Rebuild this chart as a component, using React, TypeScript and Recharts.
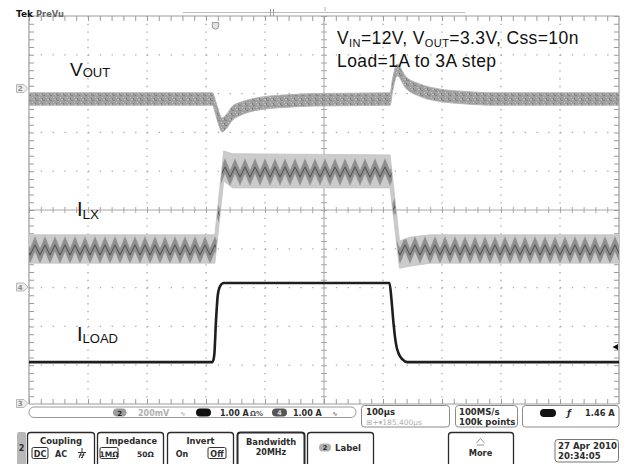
import React from 'react';
import { ComposedChart, Area, Line, XAxis, YAxis, CartesianGrid } from 'recharts';

// Time axis: µs (100 µs/div, 10 divisions). Level axis: screen divisions from bottom (0..10).

// V_OUT trace envelope (CH2, 200 mV/div)
const voutTime = [0, 311, 316, 321, 327, 335, 345, 357, 372, 390, 410, 440, 480, 612, 616, 624, 638, 662, 695, 734, 790, 1000];
const voutLow = [7.7, 7.7, 7.48, 7.22, 7.01, 7.11, 7.32, 7.43, 7.52, 7.58, 7.62, 7.65, 7.68, 7.7, 8.04, 8.46, 8.15, 7.93, 7.8, 7.74, 7.7, 7.7];
const voutHigh = [8.02, 8.02, 7.82, 7.58, 7.37, 7.47, 7.68, 7.77, 7.84, 7.9, 7.94, 7.97, 8.0, 8.02, 8.36, 8.76, 8.45, 8.25, 8.12, 8.06, 8.02, 8.02];

// I_LX ripple envelope (CH1, 1.00 A/div)
const ilxTime = [0, 315, 330, 345, 612, 628, 645, 680, 1000];
const ilxLow = [3.63, 3.63, 5.75, 5.57, 5.57, 3.5, 3.55, 3.63, 3.63];
const ilxHigh = [4.36, 4.36, 6.52, 6.45, 6.42, 4.2, 4.3, 4.36, 4.36];

// I_LOAD step (CH4, 1.00 A/div)
const iloadTime = [0, 311, 314, 317, 320, 324, 330, 611, 614, 618, 622, 627, 633, 641, 1000];
const iloadLevel = [1.08, 1.08, 1.26, 2.16, 2.81, 3.04, 3.12, 3.12, 2.75, 2.05, 1.55, 1.28, 1.15, 1.08, 1.08];

// Graticule
const majorTimes = [0, 100, 200, 300, 400, 500, 600, 700, 800, 900, 1000];
const majorLevels = [0, 1, 2, 3, 4, 5, 6, 7, 8, 9, 10];
const dottedTimes = [100, 200, 300, 400, 600, 700, 800, 900];
const dottedLevels = [1, 2, 3, 4, 6, 7, 8, 9];
const centerTime = [500];
const centerLevel = [5];
const edgeTimes = [0, 1000];
const edgeLevels = [0, 10];
const edgeTickTimes = [4.2, 995.8];
const edgeTickLevels = [0.064, 9.936];

// Text
const traceLabels = { vout: ['V', 'OUT'], ilx: ['I', 'LX'], iload: ['I', 'LOAD'] };
const noteLine2 = 'Load=1A to 3A step';
const statusCh2 = ['2', '200mV'];
const statusCh1 = ['1', '1.00 A'];
const statusCh4 = ['4', '1.00 A'];
const timebase = ['100µs', '⊞+▾185.400µs'];
const sampling = ['100MS/s', '100k points'];
const triggerInfo = ['1', 'ƒ', '1.46 A'];
const dateInfo = ['27 Apr 2010', '20:34:05'];

const voutData = voutTime.map((t, i) => ({ t, range: [voutLow[i], voutHigh[i]] }));
const ilxData = ilxTime.map((t, i) => ({ t, range: [ilxLow[i], ilxHigh[i]] }));
const iloadData = iloadTime.map((t, i) => ({ t, v: iloadLevel[i] }));

const UI = 'DejaVu Sans, Verdana, sans-serif';
const LBL = 'Liberation Sans, Arial, sans-serif';

function ChMarker({ y, label }: { y: number; label: string }) {
  return (
    <g>
      <path d={`M16.5,${y - 4} H24 L28,${y} L24,${y + 4} H16.5 Z`} fill="#ececec" stroke="#a8a8a8" strokeWidth={0.8} />
      <text x={20.3} y={y + 2.6} fontSize={7} fontFamily={UI} fontWeight="bold" textAnchor="middle" fill="#8a8a8a">{label}</text>
    </g>
  );
}

function MenuBox({ x, w, thick, children }: { x: number; w: number; thick?: boolean; children?: React.ReactNode }) {
  return (
    <g>
      <rect x={x} y={432.5} width={w} height={36} rx={3} fill="#fff" stroke="#2a2a2a" strokeWidth={thick ? 2 : 1.3} />
      {children}
    </g>
  );
}

function Overlay() {
  const t = (x: number, y: number, s: string, o: any = {}) => (
    <text x={x} y={y} fontFamily={UI} fontWeight="bold" fontSize={8.3} fill="#2c2c2c" {...o}>{s}</text>
  );
  return (
    <svg width={626} height={464} style={{ position: 'absolute', left: 0, top: 0, pointerEvents: 'none' }}>
      {/* header */}
      <text x={16} y={17} fontFamily={UI} fontWeight="bold" fontSize={9} fill="#111">Tek</text>
      <text x={36} y={17} fontFamily={UI} fontWeight="bold" fontSize={8.3} fill="#666">PreVu</text>
      <line x1={183} y1={12.5} x2={465} y2={12.5} stroke="#bdbdbd" strokeWidth={1} />
      <line x1={270.5} y1={9} x2={270.5} y2={16} stroke="#a0a0a0" strokeWidth={1} />
      <line x1={273.5} y1={9} x2={273.5} y2={16} stroke="#a0a0a0" strokeWidth={1} />
      <line x1={325} y1={7} x2={325} y2={11} stroke="#b0b0b0" strokeWidth={1} />
      <path d="M212.3,22.5 H218.7 V26 A3.2,3.2 0 0 1 212.3,26 Z" fill="#e2e2e2" stroke="#999" strokeWidth={1} />

      {/* channel ground markers */}
      <ChMarker y={88.5} label="2" />
      <ChMarker y={287} label="4" />
      <ChMarker y={403.5} label="3" />
      {/* trigger level marker */}
      <path d="M618,344 L612.5,347 L618,350 Z" fill="#111" />

      {/* trace labels */}
      <text x={70} y={76} fontFamily={LBL} fontSize={19} fill="#111">
        {traceLabels.vout[0]}
        <tspan fontSize={13} dy={1}>{traceLabels.vout[1]}</tspan>
      </text>
      <text x={77} y={216} fontFamily={LBL} fontSize={20} fill="#111">
        {traceLabels.ilx[0]}
        <tspan fontSize={13.5} dy={3}>{traceLabels.ilx[1]}</tspan>
      </text>
      <text x={77} y={341} fontFamily={LBL} fontSize={20} fill="#111">
        {traceLabels.iload[0]}
        <tspan fontSize={13} dy={2}>{traceLabels.iload[1]}</tspan>
      </text>
      <text x={337} y={44} fontFamily={LBL} fontSize={17.5} letterSpacing={0.4} fill="#111">
        V<tspan fontSize={11} dy={3}>IN</tspan>
        <tspan dy={-3}>=12V, V</tspan>
        <tspan fontSize={11} dy={3}>OUT</tspan>
        <tspan dy={-3}>=3.3V, Css=10n</tspan>
      </text>
      <text x={337} y={67} fontFamily={LBL} fontSize={17.5} letterSpacing={0.4} fill="#111">{noteLine2}</text>

      {/* status bar */}
      <rect x={29} y={407} width={327} height={10.5} rx={5} fill="#fff" stroke="#9a9a9a" strokeWidth={1} />
      <rect x={113} y={408.5} width={13.5} height={8} rx={4} fill="#9c9c9c" />
      {t(119.7, 415.5, statusCh2[0], { textAnchor: 'middle', fontSize: 7, fill: '#222' })}
      {t(138, 415.8, statusCh2[1], { fill: '#b0b0b0', fontSize: 8 })}
      {t(180, 415.5, '∿', { fill: '#b0b0b0', fontSize: 7 })}
      <rect x={196} y={408.5} width={15} height={8} rx={4} fill="#111" />
      {t(220, 415.8, statusCh1[1], { fontSize: 8 })}
      {t(250, 415.8, 'Ω%', { fontSize: 7, fill: '#555' })}
      <rect x={272} y={408.5} width={15} height={8} rx={4} fill="#555" />
      {t(279.5, 415.3, statusCh4[0], { textAnchor: 'middle', fontSize: 6.5, fill: '#ddd' })}
      {t(293, 415.8, statusCh4[1], { fontSize: 8 })}
      {t(332, 415.5, '∿', { fill: '#777', fontSize: 7 })}

      <rect x={361.5} y={405.5} width={88} height={21.5} rx={3} fill="#fff" stroke="#8a8a8a" strokeWidth={1} />
      {t(366, 414.5, timebase[0], { fontSize: 8.5 })}
      {t(366, 424.5, timebase[1], { fontSize: 7.5, fill: '#b0b0b0', fontWeight: 'normal' })}
      <rect x={455.5} y={405.5} width={62} height={21.5} rx={3} fill="#fff" stroke="#8a8a8a" strokeWidth={1} />
      {t(459, 414.5, sampling[0], { fontSize: 8.5 })}
      {t(459, 424.5, sampling[1], { fontSize: 8.5 })}
      <rect x={522.5} y={405.5} width={96.5} height={21.5} rx={3} fill="#fff" stroke="#8a8a8a" strokeWidth={1} />
      <rect x={540} y={409} width={16} height={8} rx={4} fill="#111" />
      {t(567, 416, triggerInfo[1], { fontSize: 9, fontStyle: 'italic' })}
      {t(585, 415.5, triggerInfo[2], { fontSize: 8.3 })}

      {/* menu */}
      <rect x={17} y={432} width={9} height={34} rx={2} fill="#b8b8b8" />
      {t(21.5, 451, '2', { textAnchor: 'middle', fontSize: 8 })}

      <MenuBox x={27.5} w={67}>
        {t(61, 443.5, 'Coupling', { textAnchor: 'middle', fontSize: 8.5 })}
        <rect x={32} y={447.5} width={16} height={11} rx={1.5} fill="none" stroke="#333" strokeWidth={1} />
        {t(40, 456.5, 'DC', { textAnchor: 'middle', fontSize: 8 })}
        {t(61, 456.5, 'AC', { textAnchor: 'middle', fontSize: 8 })}
        <path d="M82,448 V452.5 M78,452.5 H86 M79.5,455 H84.5 M81,457.5 H83 M79,458 L81,453 M82,458 L84,453" stroke="#333" strokeWidth={1} fill="none" />
      </MenuBox>
      <MenuBox x={97.5} w={66}>
        {t(131.5, 443.5, 'Impedance', { textAnchor: 'middle', fontSize: 8.3 })}
        <rect x={100} y={447.5} width={18} height={11} rx={1.5} fill="none" stroke="#333" strokeWidth={1} />
        {t(109, 456.5, '1MΩ', { textAnchor: 'middle', fontSize: 7.5 })}
        {t(145.5, 456.5, '50Ω', { textAnchor: 'middle', fontSize: 7.5 })}
      </MenuBox>
      <MenuBox x={167.5} w={66}>
        {t(200.5, 443.5, 'Invert', { textAnchor: 'middle', fontSize: 8.3 })}
        {t(182, 456.5, 'On', { textAnchor: 'middle', fontSize: 8 })}
        <rect x={208} y={447.5} width={18} height={11} rx={1.5} fill="none" stroke="#333" strokeWidth={1} />
        {t(217, 456.5, 'Off', { textAnchor: 'middle', fontSize: 8 })}
      </MenuBox>
      <MenuBox x={237.5} w={67} thick>
        {t(271, 444.5, 'Bandwidth', { textAnchor: 'middle', fontSize: 8.3 })}
        {t(271, 454.5, '20MHz', { textAnchor: 'middle', fontSize: 8 })}
      </MenuBox>
      <MenuBox x={307.5} w={66}>
        <rect x={319} y={443.5} width={12} height={8} rx={4} fill="#b0b0b0" />
        {t(325, 450.3, '2', { textAnchor: 'middle', fontSize: 6.5 })}
        {t(335, 451, 'Label', { fontSize: 8.5 })}
      </MenuBox>
      <MenuBox x={448.5} w={65}>
        <path d="M476.5,443 L480.5,438.5 L484.5,443 M477,445 H484" stroke="#888" strokeWidth={0.9} fill="none" />
        {t(480.5, 455.5, 'More', { textAnchor: 'middle', fontSize: 8.3 })}
      </MenuBox>
      <rect x={555} y={439.5} width={63.5} height={22.5} rx={3} fill="#fff" stroke="#777" strokeWidth={1} />
      {t(558, 449, dateInfo[0], { fontSize: 8.6 })}
      {t(558, 459, dateInfo[1], { fontSize: 8.6 })}
    </svg>
  );
}

export default function App() {
  return (
    <div style={{ position: 'absolute', left: 0, top: 0, width: 626, height: 464, background: '#fff', overflow: 'hidden' }}>
      <ComposedChart width={626} height={464} margin={{ top: 16, right: 7, bottom: 60, left: 29 }}>
        <defs>
          <pattern id="ilxRipple" patternUnits="userSpaceOnUse" x={0} y={35.5} width={10} height={39}>
            <rect width={10} height={39} fill="#cbcbcb" />
            <polyline points="-5,13.5 0,25.5 5,13.5 10,25.5 15,13.5" fill="none" stroke="#8f8f8f" strokeWidth={6} />
            <polyline points="-5,14.5 0,24.5 5,14.5 10,24.5 15,14.5" fill="none" stroke="#4a4a4a" strokeWidth={1} />
          </pattern>
          <pattern id="voutNoise" patternUnits="userSpaceOnUse" width={7} height={5}>
            <rect width={7} height={5} fill="#a0a0a0" />
            <rect x={1} y={0} width={2} height={1} fill="#838383" />
            <rect x={4} y={2} width={1} height={1} fill="#c8c8c8" />
            <rect x={0} y={3} width={1} height={2} fill="#7c7c7c" />
            <rect x={5} y={4} width={2} height={1} fill="#bebebe" />
          </pattern>
        </defs>
        <XAxis type="number" dataKey="t" domain={[0, 1000]} ticks={majorTimes} interval={0} allowDataOverflow hide />
        <YAxis type="number" domain={[0, 10]} ticks={majorLevels} interval={0} allowDataOverflow hide />
        {/* dotted graticule */}
        <CartesianGrid horizontal={false} verticalValues={dottedTimes} stroke="#a6a6a6" strokeWidth={1.3} strokeDasharray="1.3 6.46" />
        <CartesianGrid vertical={false} horizontalValues={dottedLevels} stroke="#a6a6a6" strokeWidth={1.3} strokeDasharray="1.3 10.5" />
        {/* center cross with minor ticks */}
        <CartesianGrid verticalValues={centerTime} horizontalValues={centerLevel} stroke="#c6c6c6" strokeWidth={1.6} />
        <CartesianGrid horizontal={false} verticalValues={centerTime} stroke="#a8a8a8" strokeWidth={6} strokeDasharray="1 6.76" />
        <CartesianGrid vertical={false} horizontalValues={centerLevel} stroke="#a8a8a8" strokeWidth={6} strokeDasharray="1 10.8" />
        {/* frame with inward ticks */}
        <CartesianGrid verticalValues={edgeTimes} horizontalValues={edgeLevels} stroke="#9c9c9c" strokeWidth={1.2} />
        <CartesianGrid horizontal={false} verticalValues={edgeTickTimes} stroke="#9c9c9c" strokeWidth={5} strokeDasharray="1 6.76" />
        <CartesianGrid vertical={false} horizontalValues={edgeTickLevels} stroke="#9c9c9c" strokeWidth={5} strokeDasharray="1 10.8" />

        <Area data={ilxData} dataKey="range" type="linear" fill="url(#ilxRipple)" fillOpacity={1} stroke="#c2c2c2" strokeWidth={0.8} dot={false} activeDot={false} isAnimationActive={false} />
        <Area data={voutData} dataKey="range" type="monotoneX" fill="url(#voutNoise)" fillOpacity={1} stroke="#b4b4b4" strokeWidth={1} dot={false} activeDot={false} isAnimationActive={false} />
        <Line data={iloadData} dataKey="v" type="monotoneX" stroke="#1e1e1e" strokeWidth={2.6} dot={false} activeDot={false} isAnimationActive={false} />
      </ComposedChart>
      <Overlay />
    </div>
  );
}
